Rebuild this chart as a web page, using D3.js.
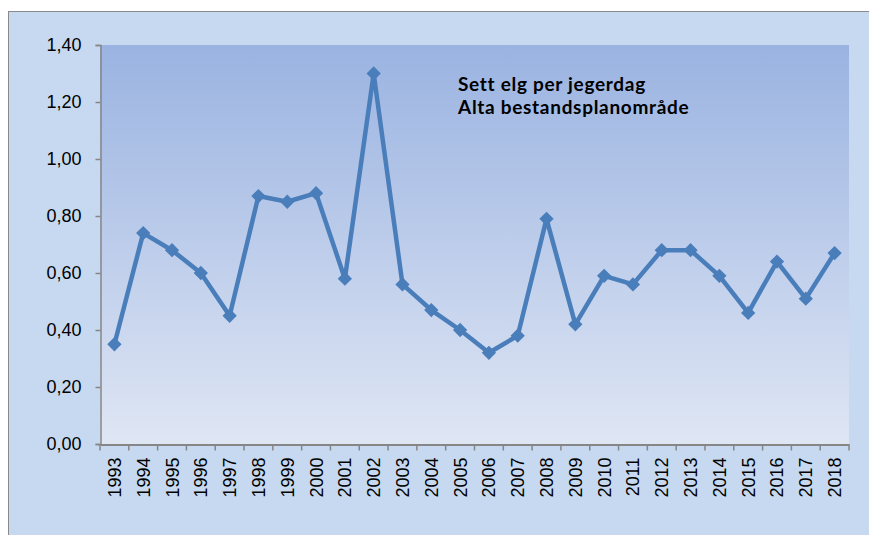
<!DOCTYPE html>
<html>
<head>
<meta charset="utf-8">
<script src="https://cdn.jsdelivr.net/npm/d3@7"></script>
<style>
  body { margin: 0; background: #fff; }
  svg { display: block; font-family: Lato, "Open Sans", sans-serif; }
</style>
</head>
<body>
<svg id="chart" width="869" height="535"></svg>
<script>
// data
var years = ["1993","1994","1995","1996","1997","1998","1999","2000","2001","2002",
             "2003","2004","2005","2006","2007","2008","2009","2010","2011","2012",
             "2013","2014","2015","2016","2017","2018"];
var settElg = [0.35, 0.74, 0.68, 0.60, 0.45, 0.87, 0.85, 0.88, 0.58, 1.30,
               0.56, 0.47, 0.40, 0.32, 0.38, 0.79, 0.42, 0.59, 0.56, 0.68,
               0.68, 0.59, 0.46, 0.64, 0.51, 0.67];
var yTicks = [0, 0.2, 0.4, 0.6, 0.8, 1.0, 1.2, 1.4];
var titleLines = ["Sett elg per jegerdag", "Alta bestandsplanområde"];

var width = 869, height = 535;
var plot = {left: 100, top: 45, right: 849, bottom: 444};

var svg = d3.select("#chart");

// gradient for plot area
var defs = svg.append("defs");
var grad = defs.append("linearGradient")
  .attr("id", "plotbg").attr("x1", 0).attr("y1", 0).attr("x2", 0).attr("y2", 1);
grad.append("stop").attr("offset", "0%").attr("stop-color", "#9ab3e1");
grad.append("stop").attr("offset", "100%").attr("stop-color", "#dfe6f4");

// outer chart area
svg.append("rect")
  .attr("x", 8.5).attr("y", 11.5)
  .attr("width", width).attr("height", height)
  .attr("fill", "#c6d9f0")
  .attr("stroke", "#8a8a8a").attr("stroke-width", 1);

svg.append("rect")
  .attr("x", plot.left).attr("y", plot.top)
  .attr("width", plot.right - plot.left).attr("height", plot.bottom - plot.top)
  .attr("fill", "url(#plotbg)");

var x = d3.scaleBand().domain(years).range([plot.left, plot.right]);
var y = d3.scaleLinear().domain([0, 1.4]).range([plot.bottom, plot.top]);

var fmt = function (d) { return d3.format(".2f")(d).replace(".", ","); };

// y axis
var yAxis = svg.append("g")
  .attr("transform", "translate(" + (plot.left + 0.5) + ",0)")
  .call(d3.axisLeft(y).tickValues(yTicks).tickFormat(fmt).tickSize(5).tickPadding(14));
yAxis.select(".domain").attr("stroke", "#868686").attr("stroke-width", 1.5);
yAxis.selectAll(".tick line").attr("stroke", "#868686").attr("stroke-width", 1.5);
yAxis.selectAll("text").attr("font-size", 18).attr("fill", "#000");

// x axis, ticks between categories
var xAxis = svg.append("g")
  .attr("transform", "translate(0," + (plot.bottom + 0.5) + ")")
  .call(d3.axisBottom(x).tickSize(0).tickFormat(""));
xAxis.select(".domain").attr("stroke", "#868686").attr("stroke-width", 2);
xAxis.selectAll(".tick").remove();

xAxis.selectAll("line.sep")
  .data(years.concat(["end"]))
  .join("line")
  .attr("class", "sep")
  .attr("x1", function (d, i) { return plot.left + i * x.step(); })
  .attr("x2", function (d, i) { return plot.left + i * x.step(); })
  .attr("y1", 0).attr("y2", 6)
  .attr("stroke", "#868686").attr("stroke-width", 1.5);

xAxis.selectAll("text.yr")
  .data(years)
  .join("text")
  .attr("class", "yr")
  .attr("transform", function (d) {
    return "translate(" + (x(d) + x.bandwidth() / 2 + 6.5) + ",13) rotate(-90)";
  })
  .attr("text-anchor", "end")
  .attr("font-size", 18)
  .attr("fill", "#000")
  .text(function (d) { return d; });

// line + markers
var line = d3.line()
  .x(function (d, i) { return x(years[i]) + x.bandwidth() / 2; })
  .y(function (d) { return y(d); });

svg.append("path")
  .datum(settElg)
  .attr("d", line)
  .attr("fill", "none")
  .attr("stroke", "#4a7ebb")
  .attr("stroke-width", 4.5)
  .attr("stroke-linejoin", "round");

svg.append("g").selectAll("path")
  .data(settElg)
  .join("path")
  .attr("d", d3.symbol().type(d3.symbolDiamond2).size(130))
  .attr("transform", function (d, i) {
    return "translate(" + (x(years[i]) + x.bandwidth() / 2) + "," + y(d) + ")";
  })
  .attr("fill", "#4a7ebb");

// title inside plot
svg.append("g").selectAll("text")
  .data(titleLines)
  .join("text")
  .attr("x", 458)
  .attr("y", function (d, i) { return 90.5 + i * 23; })
  .attr("font-size", 19)
  .attr("font-weight", "bold")
  .attr("letter-spacing", 0.7)
  .attr("fill", "#000")
  .text(function (d) { return d; });
</script>
</body>
</html>
